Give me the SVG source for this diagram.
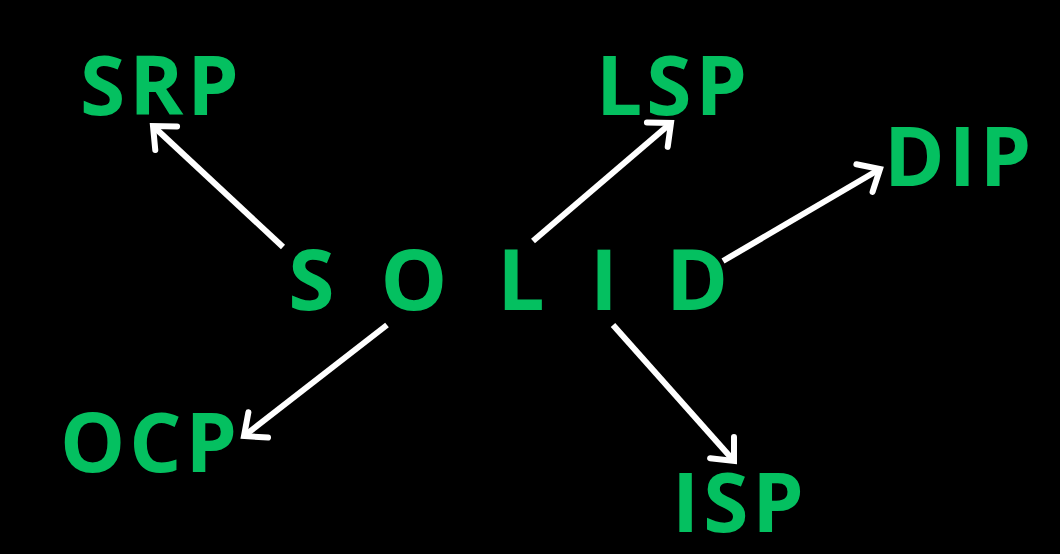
<svg xmlns="http://www.w3.org/2000/svg" width="1060" height="554" viewBox="0 0 1060 554">
  <style>
    .t { font-family: "Open Sans", "Liberation Sans", sans-serif; font-weight: 700; fill: #04c060; }
    .big { font-size: 84px; text-anchor: middle; }
    .lab { font-size: 82px; letter-spacing: 4px; }
    .c { stroke: #ffffff; stroke-width: 6; fill: none; stroke-linecap: butt; }
  </style>
  <defs>
    <marker id="ah" markerUnits="userSpaceOnUse" markerWidth="44" markerHeight="44" viewBox="-26 -22 32 44" refX="0" refY="0" orient="auto">
      <path d="M-18,-16 L0,0 L-18,16" fill="none" stroke="#ffffff" stroke-width="6" stroke-linecap="round" stroke-linejoin="miter"/>
    </marker>
  </defs>
  <rect x="0" y="0" width="1060" height="554" fill="#000000"/>

  <g id="connectors">
    <line class="c" x1="283" y1="247" x2="153" y2="126" marker-end="url(#ah)"/>
    <line class="c" x1="533" y1="241" x2="671" y2="123" marker-end="url(#ah)"/>
    <line class="c" x1="723" y1="261" x2="880" y2="169" marker-end="url(#ah)"/>
    <line class="c" x1="387" y1="325" x2="244" y2="436" marker-end="url(#ah)"/>
    <line class="c" x1="613" y1="325" x2="734" y2="461" marker-end="url(#ah)"/>
  </g>

  <g id="solid">
    <text class="t big" x="311.5" y="310">S</text>
    <text class="t big" x="414" y="310">O</text>
    <text class="t big" x="521" y="310">L</text>
    <text class="t big" x="604" y="310">I</text>
    <text class="t big" x="697" y="310">D</text>
  </g>
  <g id="srp"><text class="t lab" x="80" y="115">SRP</text></g>
  <g id="lsp"><text class="t lab" x="596" y="115">LSP</text></g>
  <g id="dip"><text class="t lab" x="884" y="186">DIP</text></g>
  <g id="ocp"><text class="t lab" x="60" y="472">OCP</text></g>
  <g id="isp"><text class="t lab" x="672" y="532">ISP</text></g>
</svg>
